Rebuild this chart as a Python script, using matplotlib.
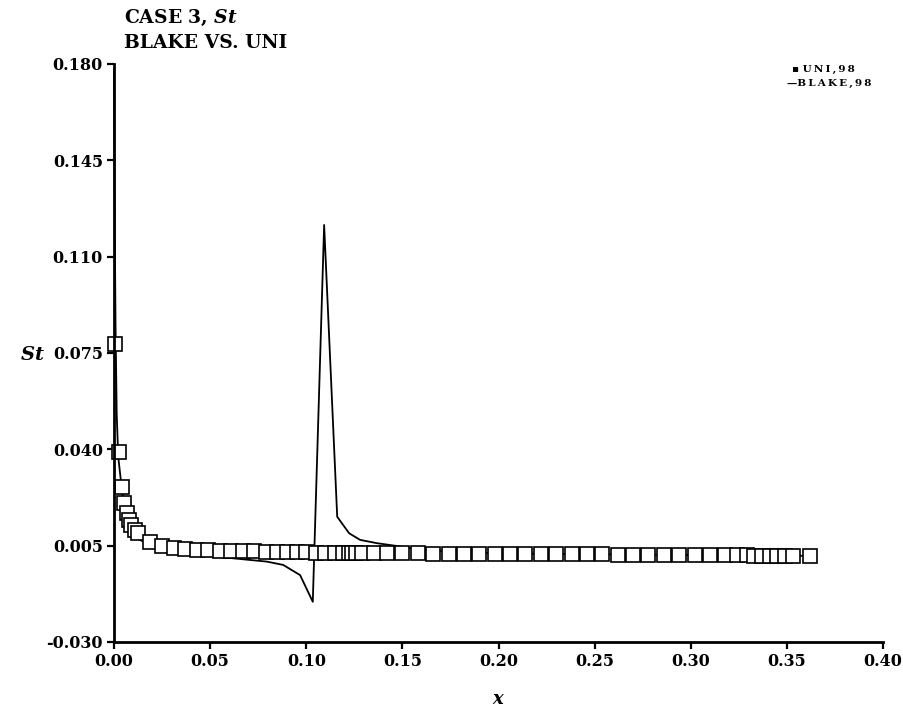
import matplotlib
matplotlib.use("Agg")
import matplotlib.pyplot as plt

# UNI,98 (squares)
uni_x = [0.0005, 0.0026, 0.0043, 0.0052, 0.0066, 0.0079, 0.0091, 0.0109, 0.0126, 0.0187,
         0.0248, 0.031, 0.037, 0.043, 0.049, 0.055, 0.061, 0.067, 0.073, 0.079,
         0.085, 0.090, 0.095, 0.100, 0.105, 0.110, 0.115, 0.119, 0.122, 0.124,
         0.126, 0.129, 0.135, 0.142, 0.150, 0.158, 0.166, 0.174, 0.182, 0.190,
         0.198, 0.206, 0.214, 0.222, 0.230, 0.238, 0.246, 0.254, 0.262, 0.270,
         0.278, 0.286, 0.294, 0.302, 0.310, 0.318, 0.324, 0.329, 0.333, 0.337,
         0.341, 0.345, 0.349, 0.353, 0.362]
uni_y = [0.0783, 0.0391, 0.0264, 0.0205, 0.0169, 0.0143, 0.0125, 0.0107, 0.0095, 0.0065,
         0.0049, 0.0043, 0.0039, 0.0036, 0.0034, 0.0032, 0.0031, 0.0030, 0.0029, 0.0028,
         0.0027, 0.0027, 0.0026, 0.0026, 0.0025, 0.0025, 0.0024, 0.0024, 0.0024, 0.0024,
         0.0023, 0.0023, 0.0023, 0.0022, 0.0022, 0.0022, 0.0021, 0.0021, 0.0021, 0.0020,
         0.0020, 0.0020, 0.0019, 0.0019, 0.0019, 0.0018, 0.0018, 0.0018, 0.0017, 0.0017,
         0.0017, 0.0016, 0.0016, 0.0016, 0.0015, 0.0015, 0.0015, 0.0015, 0.0014, 0.0014,
         0.0014, 0.0014, 0.0013, 0.0013, 0.0013]

# BLAKE,98 (line)
blake_x = [0.0, 0.0004, 0.0008, 0.0014, 0.0022, 0.0040, 0.0057, 0.0083, 0.0118, 0.0204,
           0.036, 0.062, 0.0795, 0.088, 0.0968, 0.1034, 0.1093, 0.1161, 0.1223, 0.128,
           0.1367, 0.150, 0.160, 0.175, 0.200, 0.250, 0.300, 0.362]
blake_y = [0.178, 0.120, 0.085, 0.053, 0.0373, 0.026, 0.018, 0.0107, 0.0077, 0.0046,
           0.0022, 0.0004, -0.0008, -0.002, -0.0057, -0.0154, 0.1215, 0.0155, 0.0095, 0.0071,
           0.0059, 0.0046, 0.0035, 0.0028, 0.0022, 0.0019, 0.0016, 0.0013]

xticks = [0.00, 0.05, 0.10, 0.15, 0.20, 0.25, 0.30, 0.35, 0.40]
yticks = [-0.030, 0.005, 0.040, 0.075, 0.110, 0.145, 0.180]

plt.rcParams["font.family"] = "DejaVu Serif"
plt.rcParams["mathtext.fontset"] = "dejavuserif"

fig = plt.figure(figsize=(9.04, 7.10), dpi=100)
ax = fig.add_axes([0.1261, 0.0958, 0.8507, 0.8141])

ax.plot(blake_x, blake_y, color="black", linewidth=1.3, label="BLAKE,98",
        clip_on=False)
ax.plot(uni_x, uni_y, linestyle="none", marker="s", markersize=10.3,
        markerfacecolor="white", markeredgecolor="black", markeredgewidth=1.2,
        label="UNI,98", clip_on=False)

ax.set_xlim(0, 0.40)
ax.set_ylim(-0.030, 0.180)
ax.set_xticks(xticks)
ax.set_yticks(yticks)
ax.set_xticklabels([f"{v:.2f}" for v in xticks], fontsize=11.5, fontweight="bold")
ax.set_yticklabels([f"{v:.3f}" for v in yticks], fontsize=11.5, fontweight="bold")
ax.spines["top"].set_visible(False)
ax.spines["right"].set_visible(False)
ax.spines["left"].set_linewidth(2.0)
ax.spines["bottom"].set_linewidth(2.0)
ax.tick_params(direction="out", length=5, width=1.6, pad=3)

ax.set_xlabel(r"$\boldsymbol{x}$", fontsize=13, labelpad=14)
fig.text(0.022, 1 - 355 / 710, r"$\boldsymbol{St}$", fontsize=14, va="center", ha="left")

fig.text(0.137, 1 - 18 / 710, r"CASE 3, $\boldsymbol{St}$", fontsize=13.5,
         fontweight="bold", va="center", ha="left")
fig.text(0.137, 1 - 43 / 710, "BLAKE VS. UNI", fontsize=13.5,
         fontweight="bold", va="center", ha="left")

# legend, drawn as text lines top right
ts = "\u2009"
fig.text(792 / 904, 1 - 69 / 710, "\u25aa " + ts.join("UNI,98"), fontsize=7.5,
         fontweight="bold", va="center", ha="left")
fig.text(787 / 904, 1 - 83 / 710, "\u2014" + ts.join("BLAKE,98"), fontsize=7.5,
         fontweight="bold", va="center", ha="left")

fig.savefig("out.png", dpi=100)
